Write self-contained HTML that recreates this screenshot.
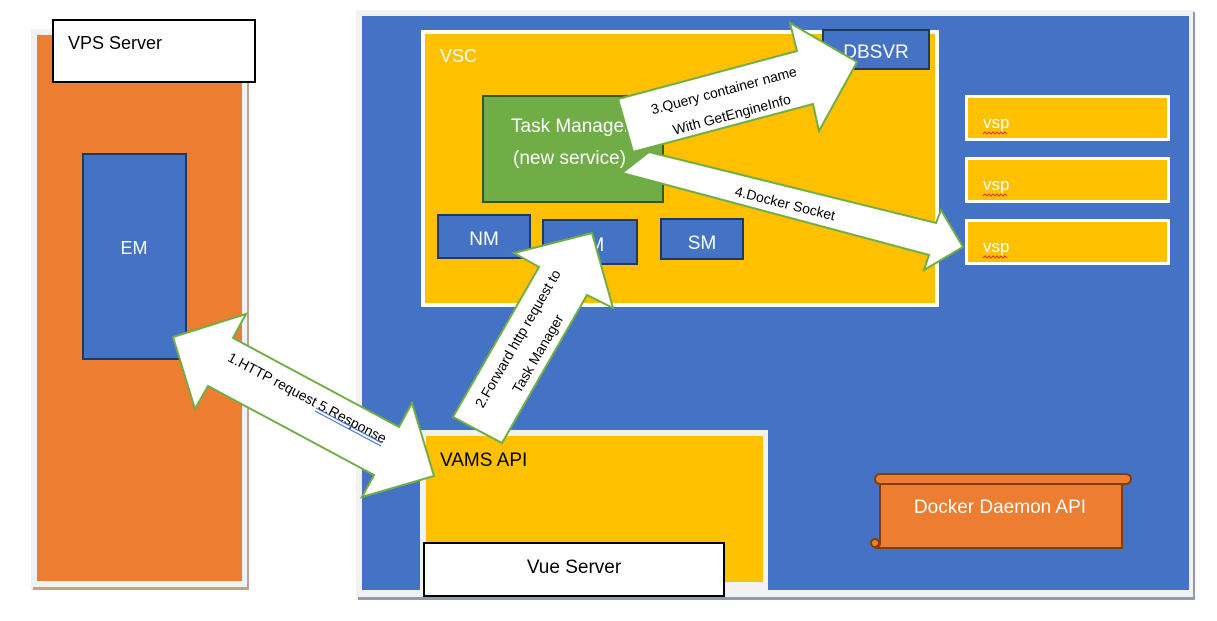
<!DOCTYPE html>
<html><head><meta charset="utf-8"><style>
html,body{margin:0;padding:0;background:#fff;width:1217px;height:621px;overflow:hidden}
svg text{font-family:"Liberation Sans",sans-serif}
</style></head><body>
<svg width="1217" height="621" viewBox="0 0 1217 621" xmlns="http://www.w3.org/2000/svg">
<!-- VPS -->
<rect x="31" y="29" width="218" height="561" fill="#f2f2f2"/>
<rect x="247" y="35" width="2" height="555" fill="#c9a08a"/>
<rect x="33" y="587" width="216" height="3" fill="#c9a08a"/>
<rect x="37" y="35" width="205" height="546" fill="#ed7d31"/>
<rect x="53" y="20" width="202" height="62" fill="#fff" stroke="#000" stroke-width="2"/>
<text x="68" y="49" font-size="18" fill="#000">VPS Server</text>
<rect x="83" y="154" width="103" height="205" fill="#4472c4" stroke="#1f3864" stroke-width="2"/>
<text x="134" y="254" font-size="18" fill="#fff" text-anchor="middle">EM</text>
<!-- Blue -->
<rect x="356" y="10" width="839" height="590" fill="#f2f2f2"/>
<rect x="358" y="597" width="837" height="3" fill="#8e9ab0"/>
<rect x="1193" y="12" width="2" height="588" fill="#8e9ab0"/>
<rect x="362" y="16" width="827" height="574" fill="#4472c4"/>
<!-- VSC -->
<rect x="421" y="30" width="518" height="277" fill="#fff"/>
<rect x="425" y="34" width="510" height="269" fill="#ffc000"/>
<text x="440" y="62" font-size="18" fill="#fff">VSC</text>
<rect x="823" y="30" width="106" height="39" fill="#4472c4" stroke="#1f3864" stroke-width="2"/>
<text x="876" y="58" font-size="19" fill="#fff" text-anchor="middle">DBSVR</text>
<rect x="483" y="96" width="180" height="106" fill="#70ad47" stroke="#375623" stroke-width="2"/>
<text x="511" y="132" font-size="19" fill="#fff">Task Manager</text>
<text x="513" y="164" font-size="19" fill="#fff">(new service)</text>
<rect x="438" y="215" width="92" height="43" fill="#4472c4" stroke="#1f3864" stroke-width="2"/>
<text x="484" y="245" font-size="19" fill="#fff" text-anchor="middle">NM</text>
<rect x="543" y="220" width="94" height="44" fill="#4472c4" stroke="#1f3864" stroke-width="2"/>
<text x="590" y="251" font-size="19" fill="#fff" text-anchor="middle">VM</text>
<rect x="661" y="219" width="82" height="40" fill="#4472c4" stroke="#1f3864" stroke-width="2"/>
<text x="702" y="249" font-size="19" fill="#fff" text-anchor="middle">SM</text>
<!-- vsp -->
<g>
<rect x="965" y="95" width="205" height="46" fill="#fff"/><rect x="968" y="98" width="199" height="40" fill="#ffc000"/>
<text x="983" y="128" font-size="17" fill="#fff">vsp</text>
<rect x="965" y="157" width="205" height="46" fill="#fff"/><rect x="968" y="160" width="199" height="40" fill="#ffc000"/>
<text x="983" y="190" font-size="17" fill="#fff">vsp</text>
<rect x="965" y="219" width="205" height="46" fill="#fff"/><rect x="968" y="222" width="199" height="40" fill="#ffc000"/>
<text x="983" y="252" font-size="17" fill="#fff">vsp</text>
<path d="M983 134 l2 -2 l2 2 l2 -2 l2 2 l2 -2 l2 2 l2 -2 l2 2 l2 -2 l2 2 l2 -2 l2 2 M983 196 l2 -2 l2 2 l2 -2 l2 2 l2 -2 l2 2 l2 -2 l2 2 l2 -2 l2 2 l2 -2 l2 2 M983 258 l2 -2 l2 2 l2 -2 l2 2 l2 -2 l2 2 l2 -2 l2 2 l2 -2 l2 2 l2 -2 l2 2" fill="none" stroke="#e03030" stroke-width="1"/>
</g>
<!-- VAMS -->
<rect x="420" y="430" width="348" height="160" fill="#f2f2f2"/>
<rect x="426" y="436" width="337" height="146" fill="#ffc000"/>
<text x="440" y="466" font-size="19" fill="#000">VAMS API</text>
<rect x="424" y="543" width="300" height="53" fill="#fff" stroke="#000" stroke-width="2"/>
<text x="574" y="573" font-size="19" fill="#000" text-anchor="middle">Vue Server</text>
<!-- Docker scroll -->
<path d="M880 483 V543 a5 5 0 0 1 -5 5 h247 V483 Z" fill="#ed7d31" stroke="#843c0c" stroke-width="2"/>
<path d="M880 474 h246 a5 5 0 0 1 0 10 h-246 a5 5 0 0 1 0 -10 Z" fill="#ed7d31" stroke="#843c0c" stroke-width="2"/>
<circle cx="875" cy="543" r="4" fill="#ed7d31" stroke="#843c0c" stroke-width="2"/>
<text x="1000" y="513" font-size="19" fill="#fff" text-anchor="middle">Docker Daemon API</text>
<!-- Arrow 4 -->
<polygon points="649,152 936,223 941,210 963,247 924,270 929,255 622,173" fill="#fff" stroke="#70ad47" stroke-width="2"/>
<text transform="translate(784,208) rotate(14)" font-size="14" fill="#000" text-anchor="middle">4.Docker Socket</text>
<!-- Arrow 3 -->
<polygon points="618,99 797,51 790,23 857,62 819,131 813,104 633,152" fill="#fff" stroke="#70ad47" stroke-width="2"/>
<text transform="translate(725,95) rotate(-15)" font-size="14" fill="#000" text-anchor="middle">3.Query container name</text>
<text transform="translate(733,119) rotate(-15)" font-size="14" fill="#000" text-anchor="middle">With GetEngineInfo</text>
<!-- Arrow 2 -->
<polygon points="453,417 502,443 587,295 613,308 592,233 514,253 539,267" fill="#fff" stroke="#70ad47" stroke-width="2"/>
<text transform="translate(522,341) rotate(-60)" font-size="14" fill="#000" text-anchor="middle">2.Forward http request to</text>
<text transform="translate(542,356) rotate(-60)" font-size="14" fill="#000" text-anchor="middle">Task Manager</text>
<!-- Arrow 1 -->
<polygon points="173,337 246,314 233,338 399,427 412,403 434,476 362,497 374,475 208,386 195,409" fill="#fff" stroke="#70ad47" stroke-width="2"/>
<text transform="translate(305,402) rotate(28)" font-size="14" fill="#000" text-anchor="middle">1.HTTP request 5.Response</text>
<path d="M316 408 l66 35 M315 411 l66 35" stroke="#4472c4" stroke-width="1"/>
</svg>
</body></html>
